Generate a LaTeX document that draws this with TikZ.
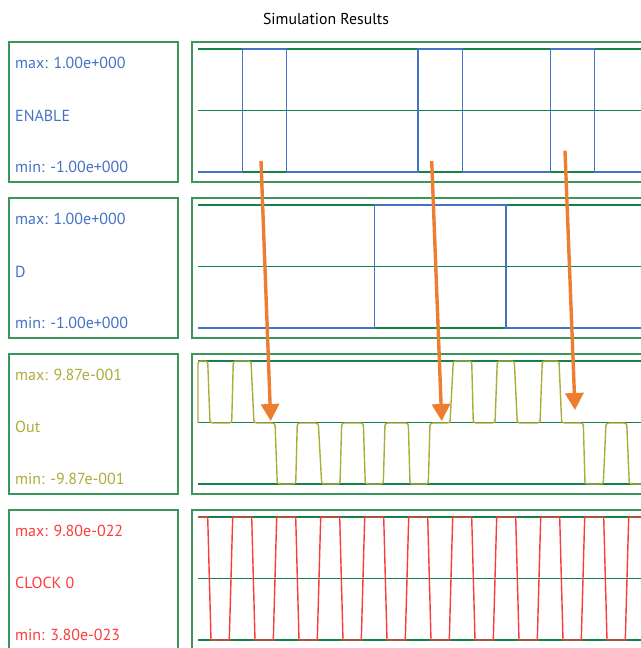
\documentclass[tikz,border=0pt]{standalone}
\usepackage{fontspec}
\setmainfont{PT Sans}
\usetikzlibrary{arrows.meta}
\definecolor{boxgreen}{RGB}{60,150,90}
\definecolor{gridgreen}{RGB}{20,130,70}
\definecolor{wblue}{RGB}{68,114,196}
\definecolor{wolive}{RGB}{172,172,60}
\definecolor{wred}{RGB}{250,60,60}
\definecolor{worange}{RGB}{237,125,49}
\begin{document}
\begin{tikzpicture}[x=1pt, y=-1pt,
  panel/.style={draw=boxgreen, line width=1.7pt, anchor=north west, inner sep=0pt, minimum height=140pt},
  gridline/.style={draw=gridgreen, line width=1.6pt},
  wave/.style={line width=1.4pt},
  lbl/.style={anchor=base west, inner sep=0pt, font=\fontsize{16}{16}\selectfont},
  hint/.style={draw=worange, line width=3.4pt, -{Triangle[length=17pt, width=18pt]}}]
\useasboundingbox (0,0) rectangle (640,648);

\node[anchor=base, inner sep=0pt, font=\fontsize{15.8}{16}\selectfont] (title) at (326,24) {Simulation Results};

% left panels with labels
\node[panel, minimum width=169pt] (l1) at (8,41) {};
\node[panel, minimum width=169pt] (l2) at (8,197) {};
\node[panel, minimum width=169pt] (l3) at (8,353) {};
\node[panel, minimum width=169pt] (l4) at (8,509) {};

\node[lbl, text=wblue] (max1) at (15,68) {max: 1.00e+000};
\node[lbl, text=wblue] (name1) at (15,121) {ENABLE};
\node[lbl, text=wblue] (min1) at (15,172) {min: -1.00e+000};
\node[lbl, text=wblue] (max2) at (15,224) {max: 1.00e+000};
\node[lbl, text=wblue] (name2) at (15,277) {D};
\node[lbl, text=wblue] (min2) at (15,328) {min: -1.00e+000};
\node[lbl, text=wolive] (max3) at (15,380.5) {max: 9.87e-001};
\node[lbl, text=wolive] (name3) at (15,432.5) {Out};
\node[lbl, text=wolive] (min3) at (15,484) {min: -9.87e-001};
\node[lbl, text=wred] (max4) at (15,536.5) {max: 9.80e-022};
\node[lbl, text=wred] (name4) at (15,588.5) {CLOCK 0};
\node[lbl, text=wred] (min4) at (15,640) {min: 3.80e-023};

% right panels and grid
\foreach \t [count=\i] in {41,197,353,509} {
  \node[panel, minimum width=470pt] (r\i) at (191,\t) {};
  \draw[gridline] (198,\t+8) -- (650,\t+8);
  \draw[gridline] (198,\t+69.5) -- (650,\t+69.5);
  \draw[gridline] (198,\t+131) -- (650,\t+131);
}

% waveforms
\draw[wave, wblue] (198,172) -- (242.3,172) -- (242.3,49) -- (286.3,49) -- (286.3,172) -- (418,172) -- (418,49) -- (462.3,49) -- (462.3,172)
  -- (550.3,172) -- (550.3,49) -- (594.3,49) -- (594.3,172) -- (650,172);
\draw[wave, wblue] (198,328) -- (374.3,328) -- (374.3,205) -- (506,205) -- (506,328) -- (650,328);
\draw[wave, wolive, rounded corners=2.5pt] (198,423) -- (198,361) -- (207.7,361) -- (210,423) -- (231.7,423) -- (233.3,361) -- (251,361) -- (254,423)
  -- (275,423) -- (277.3,484) -- (295.7,484) -- (297.3,423) -- (318.3,423) -- (321.7,484) -- (340,484) -- (341.7,423) -- (363.3,423)
  -- (365.3,484) -- (383.3,484) -- (385,423) -- (408.3,423) -- (410,484) -- (428.3,484) -- (430,423) -- (450,423) -- (453.3,361)
  -- (471.7,361) -- (473.3,423) -- (495,423) -- (497.3,361) -- (514.3,361) -- (517.3,423) -- (540,423) -- (542.3,361) -- (559,361)
  -- (561.7,423) -- (583.3,423) -- (585,484) -- (603.3,484) -- (606,423) -- (626.7,423) -- (629.3,484) -- (650,484);
\draw[wave, wred] (198,517) \foreach \k in {0,...,9} {
  -- ({207.7+44*\k},517) -- ({211+44*\k},640) -- ({229.3+44*\k},640) -- ({232.7+44*\k},517) } -- (650,517);

% enable edges to output
\coordinate (e1) at (261,161);
\coordinate (o1) at (270.7,421);
\coordinate (e2) at (431.7,161);
\coordinate (o2) at (441.7,421);
\coordinate (e3) at (565,150.7);
\coordinate (o3) at (575,410);
\draw[hint] (e1) -- (o1);
\draw[hint] (e2) -- (o2);
\draw[hint] (e3) -- (o3);
\end{tikzpicture}
\end{document}
